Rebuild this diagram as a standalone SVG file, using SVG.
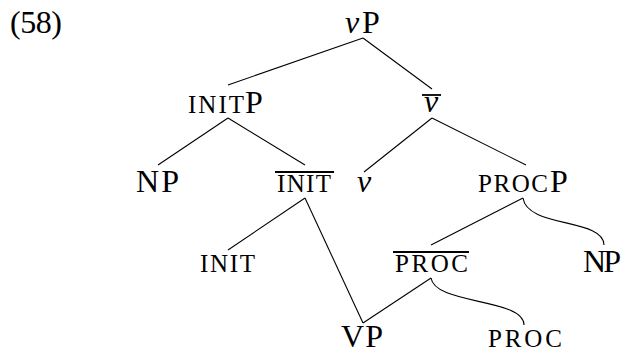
<svg xmlns="http://www.w3.org/2000/svg" width="622" height="354" viewBox="0 0 622 354">
<style>
.t{font-family:"Liberation Serif","Times New Roman",serif;font-size:32px;fill:#000}
.sc{font-size:25px}
.it{font-style:italic}
.e{stroke:#000;stroke-width:1.1;fill:none}
.bar{stroke:#000;stroke-width:1.8}
</style>
<rect width="622" height="354" fill="#fff"/>
<text class="t" x="10" y="33" textLength="52">(58)</text>
<g id="connectors">
<line class="e" x1="363" y1="38" x2="228" y2="85"/>
<line class="e" x1="363" y1="38" x2="432" y2="89"/>
<line class="e" x1="228" y1="118" x2="158" y2="165"/>
<line class="e" x1="228" y1="118" x2="305" y2="165"/>
<line class="e" x1="432" y1="118" x2="364" y2="172"/>
<line class="e" x1="432" y1="118" x2="526" y2="165"/>
<line class="e" x1="305" y1="198" x2="228" y2="250"/>
<line class="e" x1="305" y1="198" x2="363" y2="323"/>
<line class="e" x1="523" y1="198" x2="431" y2="245"/>
<path class="e" d="M523,198 C527,228 604,218 604,245"/>
<line class="e" x1="431" y1="278" x2="363" y2="323"/>
<path class="e" d="M431,278 C435,305 524,298 524,325"/>
</g>
<g id="vP"><text class="t" x="345" y="33"><tspan class="it">v</tspan><tspan x="362">P</tspan></text></g>
<g id="vbar"><line class="bar" x1="422" y1="95" x2="441" y2="95"/><text class="t it" x="424" y="112">v</text></g>
<g id="initP"><text class="t" y="113"><tspan class="sc" x="188" textLength="56">INIT</tspan><tspan x="245">P</tspan></text></g>
<g id="NP1"><text class="t" x="136" y="192" textLength="43">NP</text></g>
<g id="initbar"><line class="bar" x1="275" y1="172" x2="334" y2="172"/><text class="t sc" x="277" y="192" textLength="54">INIT</text></g>
<g id="v"><text class="t it" x="357" y="192">v</text></g>
<g id="procP"><text class="t" y="192"><tspan class="sc" x="478" textLength="70">PROC</tspan><tspan x="550">P</tspan></text></g>
<g id="init"><text class="t sc" x="200" y="272" textLength="55">INIT</text></g>
<g id="procbar"><line class="bar" x1="393" y1="252" x2="469" y2="252"/><text class="t sc" x="395" y="272" textLength="73">PROC</text></g>
<g id="NP2"><text class="t" x="583" y="272" textLength="38">NP</text></g>
<g id="VP"><text class="t" x="341" y="347" textLength="42">VP</text></g>
<g id="proc"><text class="t sc" x="488" y="347" textLength="74">PROC</text></g>
</svg>
